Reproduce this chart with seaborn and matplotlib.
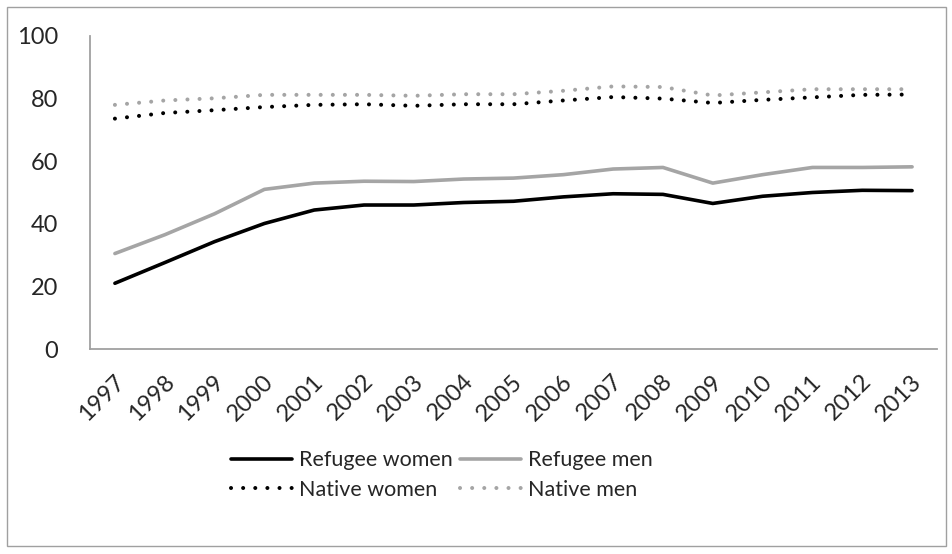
import matplotlib
matplotlib.use("Agg")
import matplotlib.pyplot as plt
import matplotlib.transforms as mtransforms
import seaborn as sns
import pandas as pd
from matplotlib.patches import Rectangle

years = [1997, 1998, 1999, 2000, 2001, 2002, 2003, 2004, 2005,
         2006, 2007, 2008, 2009, 2010, 2011, 2012, 2013]
refugee_women = [21.0, 27.6, 34.3, 40.1, 44.4, 46.0, 46.0, 46.8, 47.2,
                 48.6, 49.6, 49.4, 46.5, 48.8, 50.0, 50.7, 50.6]
refugee_men = [30.5, 36.5, 43.2, 51.0, 53.0, 53.6, 53.5, 54.3, 54.6,
               55.7, 57.5, 58.0, 53.0, 55.7, 58.0, 58.0, 58.2]
native_women = [73.6, 75.4, 76.3, 77.3, 78.0, 78.2, 77.7, 78.2, 78.2,
                79.4, 80.5, 80.0, 78.6, 79.6, 80.4, 81.2, 81.3]
native_men = [78.0, 79.4, 80.1, 81.2, 81.2, 81.2, 80.9, 81.4, 81.4,
              82.5, 83.9, 83.7, 81.0, 82.0, 83.0, 83.0, 83.0]
y_ticks = [0, 20, 40, 60, 80, 100]

GRAY = "#A5A5A5"
series = [
    ("Refugee women", refugee_women, "black", "solid"),
    ("Refugee men", refugee_men, GRAY, "solid"),
    ("Native women", native_women, "black", "dotted"),
    ("Native men", native_men, GRAY, "dotted"),
]
DOTS = (0.01, 3.0)

sns.set_style("white")
plt.rcParams["font.family"] = ["Lato", "DejaVu Sans"]

fig = plt.figure(figsize=(9.53, 5.54), dpi=100)
ax = fig.add_axes([90 / 953, 1 - 349 / 554, (937 - 90) / 953, (349 - 36) / 554])

pos = list(range(len(years)))
for name, vals, color, kind in series:
    df = pd.DataFrame({"x": pos, "y": vals})
    if kind == "solid":
        sns.lineplot(data=df, x="x", y="y", ax=ax, color=color, lw=2.6,
                     solid_capstyle="round", label=name)
    else:
        sns.lineplot(data=df, x="x", y="y", ax=ax, color=color, lw=2.9,
                     label=name)
        line = ax.lines[-1]
        line.set_dashes(DOTS)
        line.set_dash_capstyle("round")

ax.set_xlim(-0.5, len(years) - 0.5)
ax.set_ylim(0, 100)
ax.set_yticks(y_ticks)
ax.set_yticklabels([str(t) for t in y_ticks], fontsize=17)
ax.set_xticks(pos)
ax.set_xticklabels([str(y) for y in years], rotation=45, ha="right",
                   va="center", rotation_mode="anchor", fontsize=17)
ax.tick_params(axis="both", length=0)
ax.tick_params(axis="y", pad=23)
ax.tick_params(axis="x", pad=21)
shift = mtransforms.ScaledTranslation(6 / 100, 0, fig.dpi_scale_trans)
for lab in ax.get_xticklabels():
    lab.set_transform(lab.get_transform() + shift)
ax.set_xlabel("")
ax.set_ylabel("")
for s in ["top", "right"]:
    ax.spines[s].set_visible(False)
for s in ["left", "bottom"]:
    ax.spines[s].set_color("#A0A0A0")
    ax.spines[s].set_linewidth(1.3)

h, l = ax.get_legend_handles_labels()
ax.get_legend().remove()
# legend fills column by column; order so rows read women/men pairs
order = [0, 2, 1, 3]
leg = fig.legend([h[i] for i in order], [l[i] for i in order], ncol=2,
                 loc="center left", bbox_to_anchor=(212 / 953, 1 - 475 / 554),
                 frameon=False, fontsize=15.5, handlelength=2.8,
                 handletextpad=0.35, columnspacing=0.35, labelspacing=0.45)
for lh in leg.legend_handles:
    if lh.get_linestyle() not in ("-", "solid"):
        lh.set_dashes(DOTS)
        lh.set_dash_capstyle("round")

fig.patches.append(Rectangle((7 / 953, 8 / 554), (946 - 7) / 953, (547 - 8) / 554,
                             transform=fig.transFigure, fill=False,
                             edgecolor="#A0A0A0", lw=1.0))

fig.savefig("out.png", dpi=100)
